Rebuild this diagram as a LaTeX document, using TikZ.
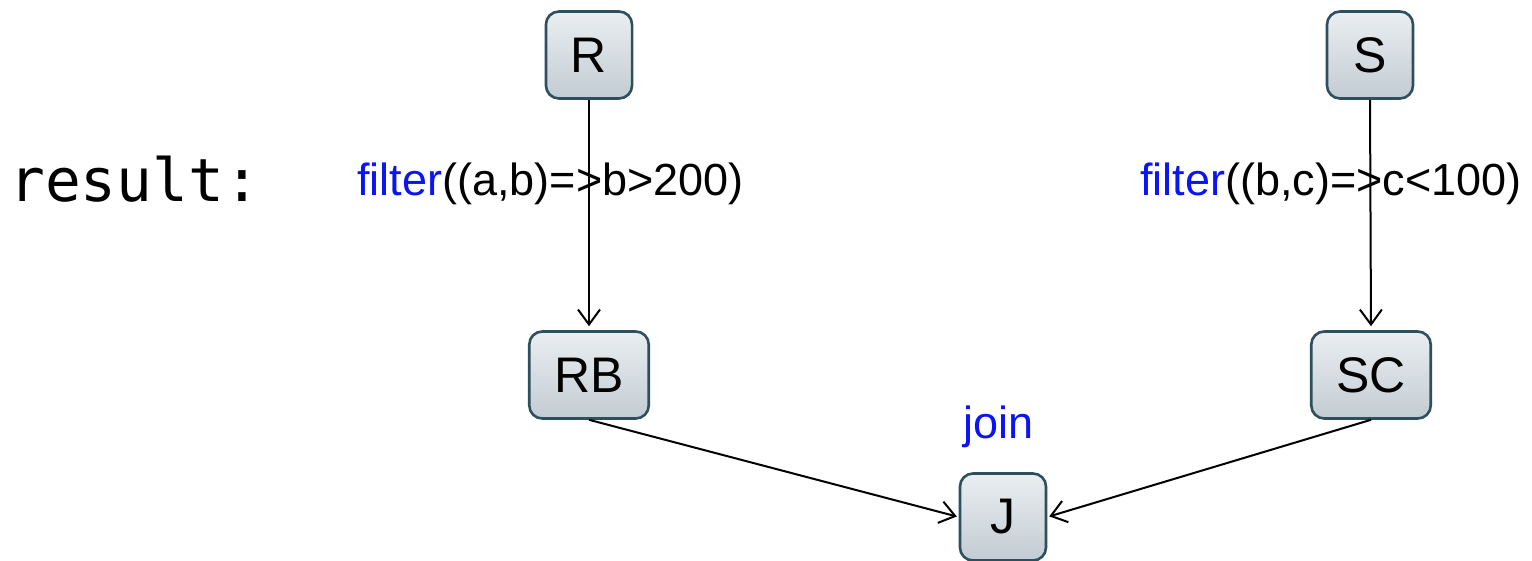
\documentclass[tikz,border=0pt]{standalone}
\usepackage{fontspec}
\setmainfont{Liberation Sans}
\newfontfamily\codefont{DejaVu Sans Mono}
\usetikzlibrary{arrows.meta}
\definecolor{boxedge}{HTML}{2E4F5E}
\definecolor{boxtop}{HTML}{EAEEF1}
\definecolor{boxbot}{HTML}{C3CCD3}
\definecolor{opblue}{HTML}{0A14F5}
\tikzset{
  relbox/.style={draw=boxedge, line width=2.6pt, rounded corners=13pt,
    top color=boxtop, bottom color=boxbot,
    minimum width=86pt, minimum height=87pt, inner xsep=25pt,
    font=\fontsize{50}{60}\selectfont},
  flow/.style={line width=2pt, -{Straight Barb[length=15pt,width=22pt,line width=2pt]}, shorten >=4pt},
  oplabel/.style={font=\fontsize{45}{54}\selectfont, inner sep=0pt},
}
\begin{document}
\begin{tikzpicture}[x=1pt,y=-1pt]
  \useasboundingbox (0,0) rectangle (1532,561);

  % relations
  \node[relbox] (R)  at (589,55)   {R};
  \node[relbox] (S)  at (1370,55)  {S};
  \node[relbox] (RB) at (589,375)  {RB};
  \node[relbox] (SC) at (1371,375) {SC};
  \node[relbox] (J)  at (1003,517) {J};

  % dataflow
  \draw[flow] (R.south) -- (RB.north);
  \draw[flow] (S.south) -- (SC.north);
  \draw[flow, shorten >=2pt] (RB.south) -- (J.west);
  \draw[flow, shorten >=2pt] (SC.south) -- (J.east);

  % operator labels
  \node[oplabel, anchor=base west] (fR) at (357,196)
    {\textcolor{opblue}{filter}((a,b)=>b>200)};
  \node[oplabel, anchor=base west] (fS) at (1140,196)
    {\textcolor{opblue}{filter}((b,c)=>c<100)};
  \node[oplabel, anchor=base west, text=opblue] (jn) at (963,438) {join};

  \node[inner sep=0pt, anchor=base west, font=\codefont\fontsize{59.5}{70}\selectfont] (res) at (9,202) {result:};
\end{tikzpicture}
\end{document}
